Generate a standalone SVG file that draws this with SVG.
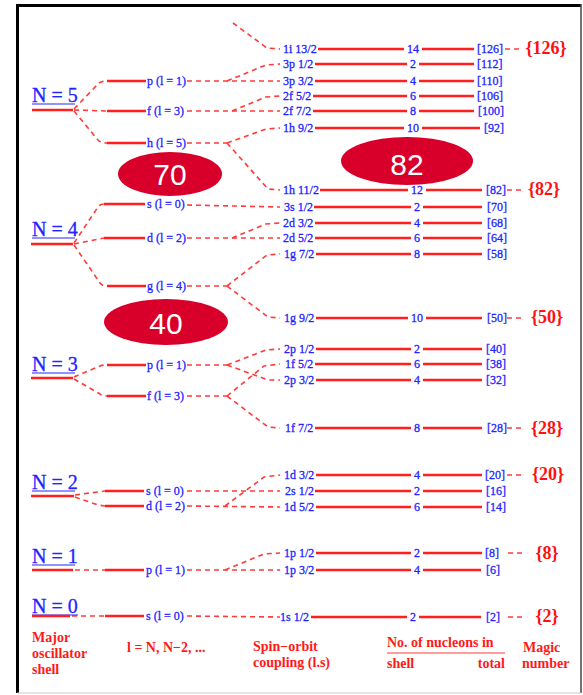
<svg xmlns="http://www.w3.org/2000/svg" width="583" height="695" viewBox="0 0 583 695">
<style>
.sol{stroke:#ff1f1f;stroke-width:2.6;fill:none}
.dash{stroke:#ff3a3a;stroke-width:1.6;stroke-dasharray:5 4;fill:none}
.lbl{font-family:"Liberation Serif",serif;font-size:12px;fill:#2424ff;stroke:#2424ff;stroke-width:0.3}
.num{font-family:"Liberation Serif",serif;font-size:12px;fill:#2424ff;stroke:#2424ff;stroke-width:0.3;text-anchor:middle}
.nlab{font-family:"Liberation Serif",serif;font-size:20px;fill:#2424ff;stroke:#2424ff;stroke-width:0.3}
.ul{stroke:#2424ff;stroke-width:1}
.magic{font-family:"Liberation Serif",serif;font-size:18px;font-weight:bold;fill:#ff1010;text-anchor:middle}
.cap{font-family:"Liberation Serif",serif;font-size:14px;font-weight:bold;fill:#ff1a1a}
.ell{fill:#d8002a}
.big{font-family:"Liberation Sans",Arial,sans-serif;font-size:30px;fill:#ffffff;text-anchor:middle}
</style>
<rect x="0" y="0" width="583" height="695" fill="#ffffff"/>
<g id="frame">
<line x1="17.5" y1="4" x2="17.5" y2="693" stroke="#000" stroke-width="3"/>
<line x1="16" y1="5.5" x2="581" y2="5.5" stroke="#000" stroke-width="3"/>
<line x1="581" y1="4" x2="581" y2="693" stroke="#444" stroke-width="1.5"/>
<line x1="17" y1="693" x2="581" y2="693" stroke="#ccc" stroke-width="1"/>
</g>

<g id="connectors">
<path class="dash" d="M74 109 L98 84 Q101 81 107 81"/>
<path class="dash" d="M74 110 L107 111"/>
<path class="dash" d="M74 111 L98 140 Q101 143 107 143"/>
<path class="dash" d="M74 243 L98 207 Q100 204 104 204"/>
<path class="dash" d="M74 244 L104 238"/>
<path class="dash" d="M74 245 L100 283 Q102 286 107 286"/>
<path class="dash" d="M74 377 L100 366 Q102 365 107 365"/>
<path class="dash" d="M74 379 L100 394 Q102 396 107 396"/>
<path class="dash" d="M75 495 L105 491"/>
<path class="dash" d="M75 497 L98 505 L105 506"/>
<path class="dash" d="M75 570 L105 570"/>
<path class="dash" d="M72 616 L105 616"/>
<path class="dash" d="M233 23 L267 48 L280 49"/>
<path class="dash" d="M187 81 L280 81"/>
<path class="dash" d="M227 81 L266 65 L280 64"/>
<path class="dash" d="M187 111 L280 111"/>
<path class="dash" d="M232 111 L266 97 L280 96"/>
<path class="dash" d="M187 143 L227 143"/>
<path class="dash" d="M227 143 L266 129 L280 128"/>
<path class="dash" d="M227 143 L268 189 L280 190"/>
<path class="dash" d="M187 205 L280 207"/>
<path class="dash" d="M187 238 L280 238"/>
<path class="dash" d="M232 238 L266 224 L280 223"/>
<path class="dash" d="M187 286 L227 286"/>
<path class="dash" d="M227 286 L267 255 L280 254"/>
<path class="dash" d="M227 286 L268 317 L280 318"/>
<path class="dash" d="M187 365 L227 365"/>
<path class="dash" d="M227 365 L266 350 L280 349"/>
<path class="dash" d="M227 365 L268 380 L280 380"/>
<path class="dash" d="M187 396 L227 396"/>
<path class="dash" d="M227 396 L264 366 L280 364"/>
<path class="dash" d="M227 396 L268 427 L280 428"/>
<path class="dash" d="M187 491 L280 491"/>
<path class="dash" d="M187 506 L280 507"/>
<path class="dash" d="M225 506 L264 477 L280 475"/>
<path class="dash" d="M187 570 L280 570"/>
<path class="dash" d="M225 570 L264 554 L280 553"/>
<path class="dash" d="M187 616 L280 617"/>
<path class="dash" d="M505 49 L521 49"/>
<path class="dash" d="M507 190 L521 190"/>
<path class="dash" d="M507 318 L522 318"/>
<path class="dash" d="M507 428 L522 428"/>
<path class="dash" d="M507 475 L522 475"/>
<path class="dash" d="M508 553 L525 553"/>
<path class="dash" d="M508 617 L525 617"/>
</g>

<g id="N5"><text class="nlab" x="32" y="102">N = 5</text><line class="ul" x1="32" y1="104" x2="75" y2="104"/><line class="sol" x1="32" y1="110" x2="73" y2="110"/></g>
<g id="N4"><text class="nlab" x="32" y="236">N = 4</text><line class="ul" x1="32" y1="238" x2="75" y2="238"/><line class="sol" x1="31" y1="244" x2="73" y2="244"/></g>
<g id="N3"><text class="nlab" x="32" y="371">N = 3</text><line class="ul" x1="32" y1="373" x2="75" y2="373"/><line class="sol" x1="31" y1="378" x2="73" y2="378"/></g>
<g id="N2"><text class="nlab" x="32" y="489">N = 2</text><line class="ul" x1="32" y1="491" x2="75" y2="491"/><line class="sol" x1="31" y1="496" x2="74" y2="496"/></g>
<g id="N1"><text class="nlab" x="32" y="563">N = 1</text><line class="ul" x1="32" y1="565" x2="75" y2="565"/><line class="sol" x1="32" y1="570" x2="73" y2="570"/></g>
<g id="N0"><text class="nlab" x="32" y="613">N = 0</text><line class="ul" x1="32" y1="615" x2="78" y2="615"/><line class="sol" x1="32" y1="616" x2="70" y2="616"/></g>

<g id="N5p"><line class="sol" x1="107" y1="81" x2="146" y2="81"/><text class="lbl" x="147" y="85">p (l = 1)</text></g>
<g id="N5f"><line class="sol" x1="107" y1="111" x2="146" y2="111"/><text class="lbl" x="147" y="115">f (l = 3)</text></g>
<g id="N5h"><line class="sol" x1="107" y1="143" x2="146" y2="143"/><text class="lbl" x="147" y="147">h (l = 5)</text></g>
<g id="N4s"><line class="sol" x1="104" y1="204" x2="145" y2="204"/><text class="lbl" x="147" y="208">s (l = 0)</text></g>
<g id="N4d"><line class="sol" x1="104" y1="238" x2="145" y2="238"/><text class="lbl" x="147" y="242">d (l = 2)</text></g>
<g id="N4g"><line class="sol" x1="107" y1="286" x2="146" y2="286"/><text class="lbl" x="147" y="290">g (l = 4)</text></g>
<g id="N3p"><line class="sol" x1="107" y1="365" x2="146" y2="365"/><text class="lbl" x="147" y="369">p (l = 1)</text></g>
<g id="N3f"><line class="sol" x1="107" y1="396" x2="146" y2="396"/><text class="lbl" x="147" y="400">f (l = 3)</text></g>
<g id="N2s"><line class="sol" x1="105" y1="491" x2="144" y2="491"/><text class="lbl" x="146" y="495">s (l = 0)</text></g>
<g id="N2d"><line class="sol" x1="105" y1="506" x2="144" y2="506"/><text class="lbl" x="146" y="510">d (l = 2)</text></g>
<g id="N1p"><line class="sol" x1="105" y1="570" x2="144" y2="570"/><text class="lbl" x="146" y="574">p (l = 1)</text></g>
<g id="N0s"><line class="sol" x1="105" y1="616" x2="144" y2="616"/><text class="lbl" x="146" y="620">s (l = 0)</text></g>

<g id="i13"><text class="lbl" x="283" y="53">1i 13/2</text><line class="sol" x1="318" y1="49" x2="404" y2="49"/><text class="num" x="413" y="53">14</text><line class="sol" x1="422" y1="49" x2="474" y2="49"/><text class="lbl" x="477" y="53">[126]</text><text class="magic" x="546" y="54">{126}</text></g>
<g id="p1a"><text class="lbl" x="283" y="68">3p 1/2</text><line class="sol" x1="315" y1="64" x2="407" y2="64"/><text class="num" x="413" y="68">2</text><line class="sol" x1="419" y1="64" x2="474" y2="64"/><text class="lbl" x="477" y="68">[112]</text></g>
<g id="p3a"><text class="lbl" x="283" y="85">3p 3/2</text><line class="sol" x1="315" y1="81" x2="407" y2="81"/><text class="num" x="413" y="85">4</text><line class="sol" x1="419" y1="81" x2="474" y2="81"/><text class="lbl" x="477" y="85">[110]</text></g>
<g id="f5a"><text class="lbl" x="283" y="100">2f 5/2</text><line class="sol" x1="313" y1="96" x2="407" y2="96"/><text class="num" x="413" y="100">6</text><line class="sol" x1="419" y1="96" x2="474" y2="96"/><text class="lbl" x="477" y="100">[106]</text></g>
<g id="f7a"><text class="lbl" x="283" y="115">2f 7/2</text><line class="sol" x1="313" y1="111" x2="407" y2="111"/><text class="num" x="413" y="115">8</text><line class="sol" x1="419" y1="111" x2="474" y2="111"/><text class="lbl" x="478" y="115">[100]</text></g>
<g id="h9"><text class="lbl" x="283" y="132">1h 9/2</text><line class="sol" x1="315" y1="128" x2="404" y2="128"/><text class="num" x="413" y="132">10</text><line class="sol" x1="422" y1="128" x2="480" y2="128"/><text class="lbl" x="484" y="132">[92]</text></g>
<g id="h11"><text class="lbl" x="283" y="194">1h 11/2</text><line class="sol" x1="320" y1="190" x2="408" y2="190"/><text class="num" x="417" y="194">12</text><line class="sol" x1="426" y1="190" x2="482" y2="190"/><text class="lbl" x="486" y="194">[82]</text><text class="magic" x="544" y="195">{82}</text></g>
<g id="s1b"><text class="lbl" x="284" y="211">3s 1/2</text><line class="sol" x1="314" y1="207" x2="411" y2="207"/><text class="num" x="417" y="211">2</text><line class="sol" x1="423" y1="207" x2="482" y2="207"/><text class="lbl" x="487" y="211">[70]</text></g>
<g id="d3b"><text class="lbl" x="283" y="227">2d 3/2</text><line class="sol" x1="315" y1="223" x2="411" y2="223"/><text class="num" x="417" y="227">4</text><line class="sol" x1="423" y1="223" x2="482" y2="223"/><text class="lbl" x="487" y="227">[68]</text></g>
<g id="d5b"><text class="lbl" x="283" y="242">2d 5/2</text><line class="sol" x1="315" y1="238" x2="411" y2="238"/><text class="num" x="417" y="242">6</text><line class="sol" x1="423" y1="238" x2="482" y2="238"/><text class="lbl" x="487" y="242">[64]</text></g>
<g id="g7"><text class="lbl" x="284" y="258">1g 7/2</text><line class="sol" x1="316" y1="254" x2="411" y2="254"/><text class="num" x="417" y="258">8</text><line class="sol" x1="423" y1="254" x2="482" y2="254"/><text class="lbl" x="487" y="258">[58]</text></g>
<g id="g9"><text class="lbl" x="284" y="322">1g 9/2</text><line class="sol" x1="316" y1="318" x2="408" y2="318"/><text class="num" x="417" y="322">10</text><line class="sol" x1="426" y1="318" x2="482" y2="318"/><text class="lbl" x="487" y="322">[50]</text><text class="magic" x="547" y="323">{50}</text></g>
<g id="p1c"><text class="lbl" x="284" y="353">2p 1/2</text><line class="sol" x1="316" y1="349" x2="411" y2="349"/><text class="num" x="417" y="353">2</text><line class="sol" x1="423" y1="349" x2="482" y2="349"/><text class="lbl" x="486" y="353">[40]</text></g>
<g id="f5c"><text class="lbl" x="285" y="368">1f 5/2</text><line class="sol" x1="315" y1="364" x2="411" y2="364"/><text class="num" x="417" y="368">6</text><line class="sol" x1="423" y1="364" x2="482" y2="364"/><text class="lbl" x="486" y="368">[38]</text></g>
<g id="p3c"><text class="lbl" x="284" y="384">2p 3/2</text><line class="sol" x1="316" y1="380" x2="411" y2="380"/><text class="num" x="417" y="384">4</text><line class="sol" x1="423" y1="380" x2="482" y2="380"/><text class="lbl" x="486" y="384">[32]</text></g>
<g id="f7c"><text class="lbl" x="285" y="432">1f 7/2</text><line class="sol" x1="315" y1="428" x2="411" y2="428"/><text class="num" x="417" y="432">8</text><line class="sol" x1="423" y1="428" x2="482" y2="428"/><text class="lbl" x="487" y="432">[28]</text><text class="magic" x="547" y="434">{28}</text></g>
<g id="d3d"><text class="lbl" x="284" y="479">1d 3/2</text><line class="sol" x1="316" y1="475" x2="411" y2="475"/><text class="num" x="417" y="479">4</text><line class="sol" x1="423" y1="475" x2="482" y2="475"/><text class="lbl" x="485" y="479">[20]</text><text class="magic" x="548" y="480">{20}</text></g>
<g id="s1d"><text class="lbl" x="285" y="495">2s 1/2</text><line class="sol" x1="315" y1="491" x2="411" y2="491"/><text class="num" x="417" y="495">2</text><line class="sol" x1="423" y1="491" x2="482" y2="491"/><text class="lbl" x="486" y="495">[16]</text></g>
<g id="d5d"><text class="lbl" x="284" y="511">1d 5/2</text><line class="sol" x1="316" y1="507" x2="411" y2="507"/><text class="num" x="417" y="511">6</text><line class="sol" x1="423" y1="507" x2="482" y2="507"/><text class="lbl" x="486" y="511">[14]</text></g>
<g id="p1e"><text class="lbl" x="284" y="557">1p 1/2</text><line class="sol" x1="316" y1="553" x2="411" y2="553"/><text class="num" x="417" y="557">2</text><line class="sol" x1="423" y1="553" x2="482" y2="553"/><text class="lbl" x="485" y="557">[8]</text><text class="magic" x="547" y="559">{8}</text></g>
<g id="p3e"><text class="lbl" x="284" y="574">1p 3/2</text><line class="sol" x1="316" y1="570" x2="411" y2="570"/><text class="num" x="417" y="574">4</text><line class="sol" x1="423" y1="570" x2="481" y2="570"/><text class="lbl" x="486" y="574">[6]</text></g>
<g id="s1f"><text class="lbl" x="280" y="621">1s 1/2</text><line class="sol" x1="311" y1="617" x2="407" y2="617"/><text class="num" x="413" y="621">2</text><line class="sol" x1="419" y1="617" x2="481" y2="617"/><text class="lbl" x="486" y="621">[2]</text><text class="magic" x="547" y="622">{2}</text></g>

<g id="e70"><ellipse class="ell" cx="170" cy="174" rx="52" ry="22"/><text class="big" x="170" y="185">70</text></g>
<g id="e82"><ellipse class="ell" cx="407" cy="161" rx="66" ry="24"/><text class="big" x="407" y="175">82</text></g>
<g id="e40"><ellipse class="ell" cx="166" cy="322" rx="62" ry="23"/><text class="big" x="166" y="334">40</text></g>

<g id="captions">
<text class="cap" x="32" y="642">Major</text>
<text class="cap" x="32" y="658">oscillator</text>
<text class="cap" x="32" y="674">shell</text>
<text class="cap" x="127" y="652">l = N, N−2, ...</text>
<text class="cap" x="253" y="651">Spin−orbit</text>
<text class="cap" x="253" y="667">coupling (l.s)</text>
<text class="cap" x="387" y="647">No. of nucleons in</text>
<line x1="387" y1="653" x2="505" y2="653" stroke="#ff3a3a" stroke-width="1.2"/>
<text class="cap" x="387" y="668">shell</text>
<text class="cap" x="505" y="668" text-anchor="end">total</text>
<text class="cap" x="523" y="652">Magic</text>
<text class="cap" x="522" y="668">number</text>
</g>
</svg>
